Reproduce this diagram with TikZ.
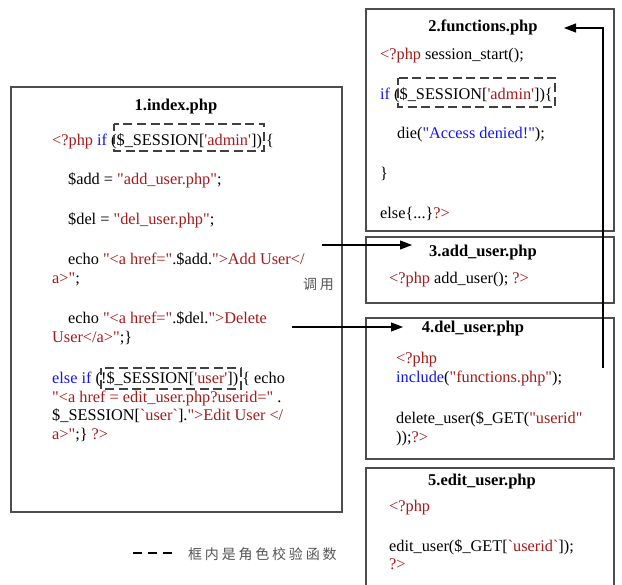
\documentclass[tikz,border=0pt]{standalone}
\usepackage{fontspec}
\usepackage{xcolor}
\usetikzlibrary{arrows.meta}
\newfontfamily\codefont{Liberation Serif}
\newfontfamily\cjk{Noto Sans CJK SC}[LetterSpace=20]
\definecolor{st}{HTML}{A31A1A}
\definecolor{kw}{HTML}{1414F0}
\definecolor{fr}{HTML}{4D4D4D}
\definecolor{nt}{HTML}{555555}
\newcommand{\rd}[1]{\textcolor{st}{#1}}
\newcommand{\bl}[1]{\textcolor{kw}{#1}}

\tikzset{
  code/.style = {inner sep = 0, anchor = base west, font = \codefont\fontsize{16.3bp}{19bp}\selectfont, align = left},
  title/.style = {inner sep = 0, anchor = base, font = \codefont\bfseries\fontsize{16.5bp}{19bp}\selectfont},
  filebox/.style = {draw = fr, line width = 1.3bp},
  rolecheck/.style = {draw = black!75, line width = 1.1bp, dash pattern = on 9bp off 4.5bp, dash phase = 2bp},
  call/.style = {draw = black, line width = 1.2bp, -{Triangle[length=12bp, width=9bp]}},
  note/.style = {inner sep = 0, anchor = base west, text = nt, font = \cjk\fontsize{14bp}{16bp}\selectfont}
}

\begin{document}
\begin{tikzpicture}[x=1bp, y=-1bp]
  \useasboundingbox (0,0) rectangle (622,585);

  % file boxes
  \draw[filebox] (11,87) rectangle (342,512);
  \draw[filebox] (366,9) rectangle (614,231);
  \draw[filebox] (366,237) rectangle (614,303);
  \draw[filebox] (366,318) rectangle (614,459);
  \draw[filebox] (366,468) rectangle (614,592);

  % 1.index.php
  \node[title] (ttlindex) at (176,111) {1.index.php};
  \node[code] (idx1) at (52,146) {\rd{<?php} \bl{if} (\$\_SESSION[\rd{'admin'}]) \{};
  \node[code] (idx2) at (68,185) {\$add = \rd{"add\_user.php"};};
  \node[code] (idx3) at (68,224) {\$del = \rd{"del\_user.php"};};
  \node[code] (idx4) at (68,264) {echo \rd{"<a href="}.\$add.\rd{">Add User</}};
  \node[code] (idx5) at (52,283) {\rd{a>"};};
  \node[code] (idx6) at (68,323) {echo \rd{"<a href="}.\$del.\rd{">Delete}};
  \node[code] (idx7) at (52,342) {\rd{User</a>"};\}};
  \node[code] (idx8) at (52,383) {\bl{else if} (!\$\_SESSION[\rd{'user'}]) \{ echo};
  \node[code] (idx9) at (52,402) {\rd{"<a href = edit\_user.php?userid="} .};
  \node[code] (idx10) at (52,420) {\$\_SESSION[\rd{`user`}].\rd{">Edit User </}};
  \node[code] (idx11) at (52,439) {\rd{a>"};\} \rd{?>}};

  % 2.functions.php
  \node[title] (ttlfunc) at (483,32) {2.functions.php};
  \node[code] (fn1) at (380,60) {\rd{<?php} session\_start();};
  \node[code] (fn2) at (380,100) {\bl{if} (\$\_SESSION[\rd{'admin'}])\{};
  \node[code] (fn3) at (397,139) {die(\bl{"Access denied!"});};
  \node[code] (fn4) at (380,179) {\}};
  \node[code] (fn5) at (380,218) {else\{...\}\rd{?>}};

  % 3.add_user.php
  \node[title] (ttladd) at (483,256) {3.add\_user.php};
  \node[code] (ad1) at (389,283) {\rd{<?php} add\_user(); \rd{?>}};

  % 4.del_user.php
  \node[title] (ttldel) at (473,332) {4.del\_user.php};
  \node[code] (de1) at (396,363) {\rd{<?php}};
  \node[code] (de2) at (396,382) {\bl{include}(\rd{"functions.php"});};
  \node[code] (de3) at (396,423) {delete\_user(\$\_GET(\rd{"userid"}};
  \node[code] (de4) at (396,442) {));\rd{?>}};

  % 5.edit_user.php
  \node[title] (ttledit) at (482,485) {5.edit\_user.php};
  \node[code] (ed1) at (389,511) {\rd{<?php}};
  \node[code] (ed2) at (389,551) {edit\_user(\$\_GET[\rd{`userid`}]);};
  \node[code] (ed3) at (389,569) {\rd{?>}};

  % role checks
  \draw[rolecheck] (114,124) rectangle (264,151);
  \draw[rolecheck] (101,368) rectangle (241,389);
  \draw[rolecheck] (398,78) rectangle (555,107);

  % calls
  \coordinate (addcall) at (322,245);
  \coordinate (addhead) at (412,245);
  \coordinate (delcall) at (292,327);
  \coordinate (delhead) at (403,327);
  \coordinate (inccall) at (603,368);
  \coordinate (inchead) at (564,28);
  \draw[call] (addcall) -- (addhead);
  \draw[call] (delcall) -- (delhead);
  \draw[call] (inccall) |- (inchead);
  \node[note] (calllbl) at (303,289) {调用};

  % legend
  \coordinate (keyl) at (133,553);
  \coordinate (keyr) at (172,553);
  \draw[line width = 2bp, dash pattern = on 9bp off 6bp] (keyl) -- (keyr);
  \node[note] (keytxt) at (188,559) {框内是角色校验函数};
\end{tikzpicture}
\end{document}
